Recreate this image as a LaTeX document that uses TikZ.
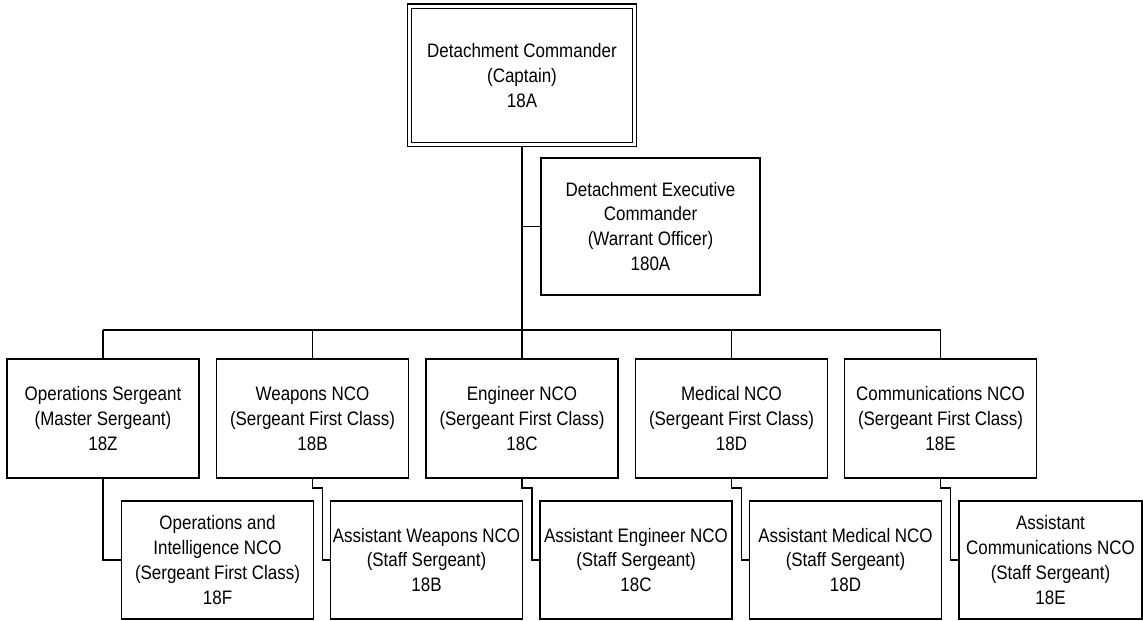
\documentclass[tikz,border=0pt]{standalone}
\usepackage{fontspec}
\setmainfont[FakeStretch=0.87]{Liberation Sans}
\usepackage{tikz}

\begin{document}
\begin{tikzpicture}[x=0.02cm, y=-0.02cm,
  every node/.style={align=center, inner sep=0pt, outer sep=0pt, font=\fontsize{11.1}{14.2}\selectfont},
  box/.style={draw, line width=0.7pt, minimum width=3.84cm, minimum height=2.38cm},
  subbox/.style={box, minimum height=2.36cm},
  cmdbox/.style={draw, double, double distance=1.8pt, line width=0.6pt, outer sep=1.5pt, minimum width=4.515cm, minimum height=2.775cm},
  link/.style={line width=0.6pt},
  trunk/.style={line width=1.1pt}]
\useasboundingbox (0,0) rectangle (1143,621);

\node[cmdbox] (cdr) at (522,75.5) {Detachment Commander\\(Captain)\\18A};
\node[box, minimum width=4.38cm, minimum height=2.74cm] (xo) at (650.5,226.5) {Detachment Executive\\Commander\\(Warrant Officer)\\180A};

\node[box] (ops) at (103,418.5) {Operations Sergeant\\(Master Sergeant)\\18Z};
\node[box] (wpn) at (312.5,418.5) {Weapons NCO\\(Sergeant First Class)\\18B};
\node[box] (eng) at (522,418.5) {Engineer NCO\\(Sergeant First Class)\\18C};
\node[box] (med) at (731.5,418.5) {Medical NCO\\(Sergeant First Class)\\18D};
\node[box] (com) at (940.5,418.5) {Communications NCO\\(Sergeant First Class)\\18E};

\node[subbox] (oi) at (217.5,560) {Operations and\\Intelligence NCO\\(Sergeant First Class)\\18F};
\node[subbox] (awpn) at (426.5,560) {Assistant Weapons NCO\\(Staff Sergeant)\\18B};
\node[subbox] (aeng) at (636,560) {Assistant Engineer NCO\\(Staff Sergeant)\\18C};
\node[subbox] (amed) at (845.5,560) {Assistant Medical NCO\\(Staff Sergeant)\\18D};
\node[subbox, minimum width=3.66cm] (acom) at (1050.5,560) {Assistant\\Communications NCO\\(Staff Sergeant)\\18E};

\coordinate (bar) at (522,330);
\draw[trunk] (cdr.south) -- (bar);
\draw[link] (bar |- xo.west) -- (xo.west);
\draw[trunk] (ops.north |- bar) -- (com.north |- bar);

\draw[link] (bar -| ops.north) -- (ops.north);
\draw[link] (bar -| wpn.north) -- (wpn.north);
\draw[link] (bar -| eng.north) -- (eng.north);
\draw[link] (bar -| med.north) -- (med.north);
\draw[link] (bar -| com.north) -- (com.north);

\draw[link] (ops.south) |- (oi.west);
\draw[link] (wpn.south) -- ++(0,10) -- ++(10,0) |- (awpn.west);
\draw[link] (eng.south) -- ++(0,10) -- ++(10,0) |- (aeng.west);
\draw[link] (med.south) -- ++(0,10) -- ++(10,0) |- (amed.west);
\draw[link] (com.south) -- ++(0,10) -- ++(10,0) |- (acom.west);
\end{tikzpicture}
\end{document}
